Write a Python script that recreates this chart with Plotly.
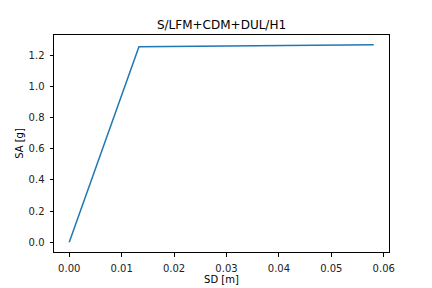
import plotly.graph_objects as go

sd = [0.0, 0.0133, 0.0581]
sa = [0.0, 1.255, 1.267]
title = "S/LFM+CDM+DUL/H1"
xticks = [0.0, 0.01, 0.02, 0.03, 0.04, 0.05, 0.06]
yticks = [0.0, 0.2, 0.4, 0.6, 0.8, 1.0, 1.2]

def padded(vals, m=0.05):
    lo, hi = min(vals), max(vals)
    d = (hi - lo) * m
    return [lo - d, hi + d]

fig = go.Figure(go.Scatter(x=sd, y=sa, mode="lines",
                           line=dict(color="#1f77b4", width=1.5)))
axis_common = dict(showgrid=False, zeroline=False, showline=True, linecolor="black",
                   linewidth=1, mirror=True, ticks="outside", ticklen=3.5, tickwidth=1,
                   tickcolor="black", ticklabelstandoff=3, automargin=False,
                   tickfont=dict(family="DejaVu Sans", size=10, color="#222222"))
fig.update_layout(
    width=432, height=288,
    margin=dict(l=54, r=43, t=35, b=36),
    paper_bgcolor="white", plot_bgcolor="white",
    font=dict(family="DejaVu Sans", size=10, color="black"),
    title=dict(text=title, x=0.5, xref="paper", xanchor="center", y=1 - 25/288, yanchor="middle",
               automargin=False, font=dict(size=12, color="black")),
    showlegend=False,
    xaxis=dict(range=padded(sd), tickvals=xticks, ticktext=[f"{v:.2f}" for v in xticks],
               title=dict(text="SD [m]", standoff=3, font=dict(size=10)), **axis_common),
    yaxis=dict(range=padded(sa), tickvals=yticks, ticktext=[f"{v:.1f}" for v in yticks],
               title=dict(text="SA [g]", standoff=3, font=dict(size=10)), **axis_common),
)
fig.write_html("out.html")
